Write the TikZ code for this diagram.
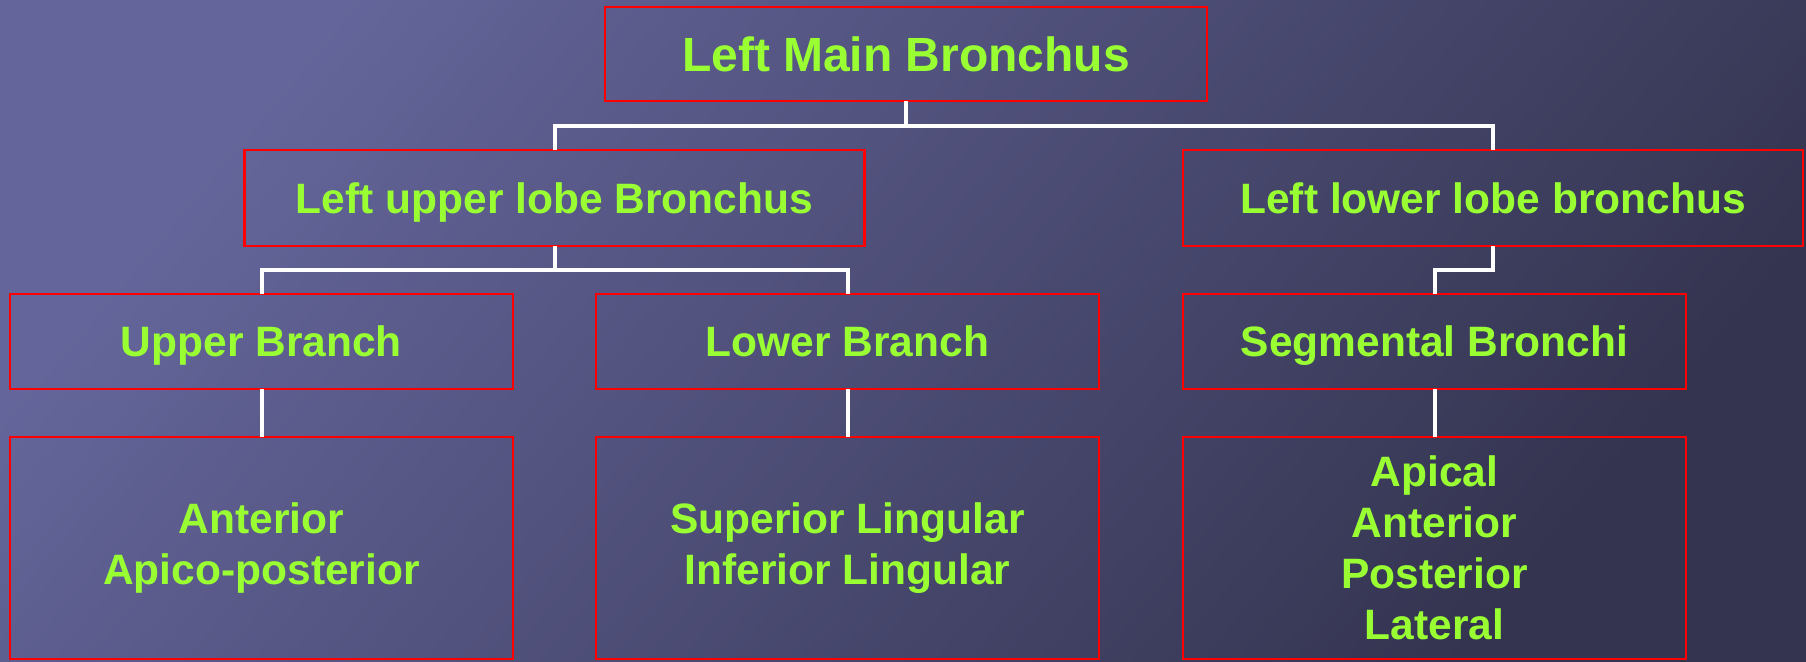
\documentclass[tikz,border=0pt]{standalone}
\usepackage{fontspec}
\setmainfont{Liberation Sans}
\definecolor{bgA}{RGB}{100,101,154}
\definecolor{bgB}{RGB}{52,52,80}
\definecolor{txt}{RGB}{153,255,51}
\definecolor{bord}{RGB}{255,0,0}
\tikzset{
  box/.style={draw=bord, line width=2.5pt, inner sep=0pt, outer sep=0pt,
    text=txt, font=\bfseries\fontsize{42.5}{51}\selectfont, align=center},
  one/.style={text height=30.4pt, text depth=0pt},
  conn/.style={draw=white, line width=4pt, line join=miter}
}
\begin{document}
\begin{tikzpicture}[x=1pt,y=-1pt]
\useasboundingbox (0,0) rectangle (1806,661);
\shade[shading=axis, top color=bgA, bottom color=bgB, shading angle=50] (0,0) rectangle (1806,661);
% level 0
\node[box, one, text height=34.4pt, minimum width=602pt, minimum height=94pt, font=\bfseries\fontsize{48}{56}\selectfont] (top) at (906,54) {Left Main Bronchus};
% level 1
\node[box, one, minimum width=620pt, minimum height=96pt] (ulobe) at (554.5,198) {Left upper lobe Bronchus};
\node[box, one, minimum width=620pt, minimum height=96pt] (llobe) at (1493,198) {Left lower lobe bronchus};
% level 2
\node[box, one, minimum width=503pt, minimum height=95pt] (ub) at (261.5,341.5) {Upper Branch};
\node[box, one, minimum width=503pt, minimum height=95pt] (lb) at (847.5,341.5) {Lower Branch};
\node[box, one, minimum width=503pt, minimum height=95pt] (seg) at (1434.5,341.5) {Segmental Bronchi};
% level 3
\node[box, minimum width=503pt, minimum height=222pt] (ubx) at (261.5,548) {Anterior\\Apico-posterior};
\node[box, minimum width=503pt, minimum height=222pt] (lbx) at (847.5,548) {Superior Lingular\\Inferior Lingular};
\node[box, minimum width=503pt, minimum height=222pt] (segx) at (1434.5,548) {Apical\\Anterior\\Posterior\\Lateral};
% connectors
\draw[conn] (top.south) -- (top.south |- 0,126);
\draw[conn] (ulobe.north) -- (ulobe.north |- 0,126) -- (llobe.north |- 0,126) -- (llobe.north);
\draw[conn] (ulobe.south) -- (ulobe.south |- 0,270);
\draw[conn] (ub.north) -- (ub.north |- 0,270) -- (lb.north |- 0,270) -- (lb.north);
\draw[conn] (llobe.south) -- (llobe.south |- 0,270) -- (seg.north |- 0,270) -- (seg.north);
\draw[conn] (ub.south) -- (ubx.north);
\draw[conn] (lb.south) -- (lbx.north);
\draw[conn] (seg.south) -- (segx.north);
\end{tikzpicture}
\end{document}
